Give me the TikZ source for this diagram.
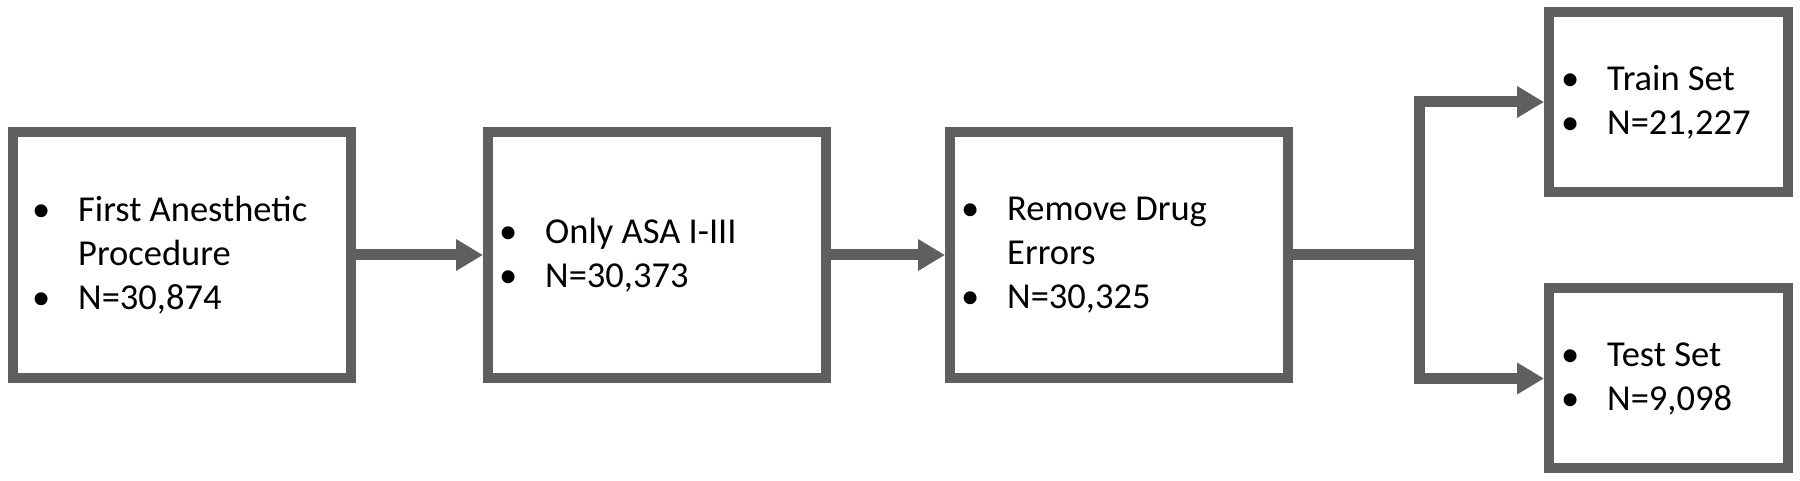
\documentclass[tikz,border=0pt]{standalone}
\usepackage{fontspec}
\setmainfont{Carlito}
\usepackage{tikz}
\usetikzlibrary{positioning,arrows.meta}

\definecolor{framegray}{RGB}{95,95,95}
\newcommand{\itm}{\makebox[46pt][l]{•}}
\newcommand{\gap}{\hspace*{46pt}}

\tikzset{
  stage/.style={draw=framegray, line width=10pt, minimum width=338pt, minimum height=246pt, inner sep=0pt},
  leaf/.style={stage, minimum width=239pt, minimum height=180pt},
  entry/.style={anchor=west, inner sep=0pt, align=left, font=\fontsize{36.5}{44}\selectfont},
  flow/.style={draw=framegray, line width=11pt},
  pointer/.style={flow, -{Triangle[length=27pt,width=30pt]}}
}

\begin{document}
\begin{tikzpicture}[x=1pt,y=1pt]
			\useasboundingbox (0,0) rectangle (1800,481);
			% main row
			\node[stage] (first) at (182,226) {};
			\node[stage, right=127pt of first] (asa) {};
			\node[stage, right=114pt of asa] (drug) {};
			% split
			\node[leaf] (train) at (1668.5,379) {};
			\node[leaf] (test) at (1668.5,102.5) {};
			\coordinate (split) at (1419,226);
			% texts
			\node[entry] (firsttxt) at ([xshift=24pt]first.west) {\itm First Anesthetic\\\gap Procedure\\\itm N=30,874};
			\node[entry] (asatxt) at ([xshift=16pt]asa.west) {\itm Only ASA I-III\\\itm N=30,373};
			\node[entry] (drugtxt) at ([xshift=16pt]drug.west) {\itm Remove Drug\\\gap Errors\\\itm N=30,325};
			\node[entry] (traintxt) at ([xshift=17pt]train.west) {\itm Train Set\\\itm N=21,227};
			\node[entry] (testtxt) at ([xshift=17pt]test.west) {\itm Test Set\\\itm N=9,098};
			% connectors
			\draw[pointer] (first) -- (asa);
			\draw[pointer] (asa) -- (drug);
			\draw[flow] (drug) -- (split);
			\draw[pointer] (split) |- (train);
			\draw[pointer] (split) |- (test);
		\end{tikzpicture}
\end{document}
